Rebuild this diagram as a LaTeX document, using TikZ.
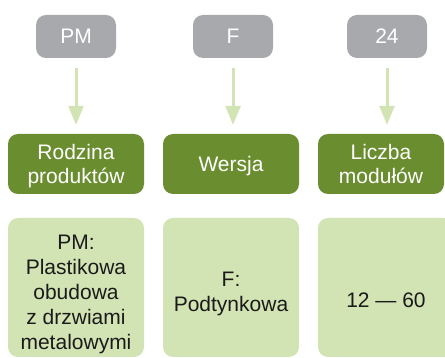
\documentclass[tikz,border=0pt]{standalone}
\usepackage{fontspec}
\setmainfont{Liberation Sans}
\usetikzlibrary{arrows.meta}
\definecolor{greybox}{HTML}{A7A9AC}
\definecolor{darkgreen}{HTML}{6A8E2F}
\definecolor{lightgreen}{HTML}{D3E4B4}
\definecolor{textdark}{HTML}{1A1A1A}
\tikzset{
  base/.style={rounded corners=10pt, inner sep=0pt, align=center,
    font=\fontsize{21}{24.5}\selectfont},
  codebox/.style={base, fill=greybox, text=white, minimum width=80pt, minimum height=43pt},
  catbox/.style={base, fill=darkgreen, text=white, minimum width=136pt, minimum height=60pt, text depth=0pt},
  valbox/.style={base, fill=lightgreen, minimum width=136pt, minimum height=139pt},
  valtext/.style={inner sep=0pt, align=center, text=textdark,
    font=\fontsize{21}{25}\selectfont},
  flow/.style={draw=lightgreen, line width=3pt, -{Triangle[width=15pt,length=19pt]},
    shorten <=10pt, shorten >=9pt}
}
\begin{document}
\begin{tikzpicture}[x=1pt,y=-1pt]
\useasboundingbox (0,0) rectangle (445,358);
% top codes
\node[codebox] (c1) at (76,36.5) {PM};
\node[codebox] (c2) at (233,36.5) {F};
\node[codebox] (c3) at (387,36.5) {24};
% categories
\node[catbox] (k1) at (76,164) {Rodzina\\produktów};
\node[catbox] (k2) at (231,164) {Wersja};
\node[catbox, minimum width=126pt] (k3) at (381,164) {Liczba\\modułów};
% values
\node[valbox] (v1) at (76,287.5) {};
\node[valbox] (v2) at (231,287.5) {};
\node[valbox] (v3) at (386,287.5) {};
\node[valtext] (t1) at (76,294) {PM:\\Plastikowa\\obudowa\\z drzwiami\\metalowymi};
\node[valtext] (t2) at (231,294) {F:\\Podtynkowa};
\node[valtext] (t3) at (386,300.5) {12 — 60};
% arrows
\draw[flow] (c1.south) -- (c1.south |- k1.north);
\draw[flow] (c2.south) -- (c2.south |- k2.north);
\draw[flow] (c3.south) -- (c3.south |- k3.north);
\end{tikzpicture}
\end{document}
